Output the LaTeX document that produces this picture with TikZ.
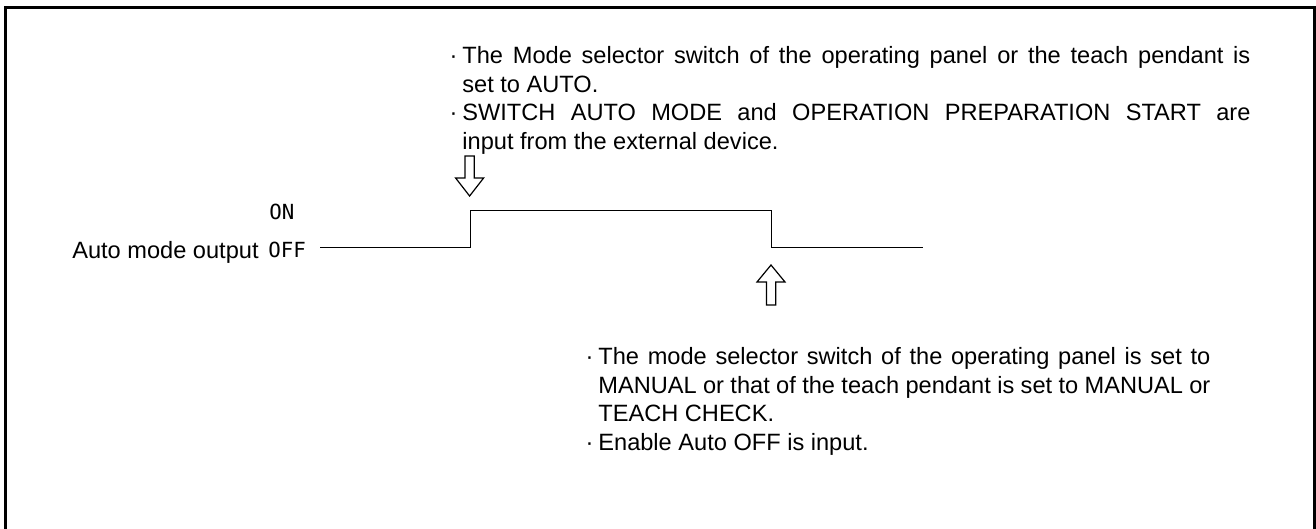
\documentclass[tikz,border=0pt]{standalone}
\usepackage{fontspec}
\setmainfont{Liberation Sans}
\newfontfamily\levelfont{DejaVu Sans Mono}
\usetikzlibrary{positioning}

\begin{document}
\begin{tikzpicture}[
    x=0.5pt, y=-0.5pt,
    note/.style={inner sep=0pt, anchor=north west, align=justify,
                 font=\fontsize{11.8}{14.25}\selectfont},
    sig/.style={inner sep=0pt, font=\fontsize{11.8}{14.25}\selectfont},
    lvl/.style={inner sep=0pt, font=\levelfont\fontsize{10.4}{12}\selectfont},
    wave/.style={line width=0.75pt},
    hollow/.style={line width=0.6pt, line join=miter},
  ]
    \useasboundingbox (0,0) rectangle (1316,529);
    \draw[line width=1.6pt] (5.7,529) -- (5.7,7.3) -- (1314.2,7.3) -- (1314.2,529);

    % signal name and levels
    \node[sig, anchor=base east] (signame) at (259,258) {Auto mode output};
    \node[lvl, anchor=base west] (offlbl) at (268,257) {OFF};
    \node[lvl, anchor=base west] (onlbl) at (269,220) {ON};

    % waveform
    \coordinate (w0) at (320,247.5);
    \coordinate (w1) at (470.5,247.5);
    \coordinate (w2) at (470.5,210.5);
    \coordinate (w3) at (771.5,210.5);
    \coordinate (w4) at (771.5,247.5);
    \coordinate (w5) at (922.5,247.5);
    \draw[wave] (w0) -- (w1) -- (w2) -- (w3) -- (w4) -- (w5);

    % hollow arrows
    \coordinate (ontip) at (469.6,196);
    \coordinate (offtip) at (771,265);
    \draw[hollow] (ontip) -- ++(-14,-18) -- ++(9.4,0) -- ++(0,-22) -- ++(9.2,0)
      -- ++(0,22) -- ++(9.4,0) -- cycle;
    \draw[hollow] (offtip) -- ++(-14,17) -- ++(9.5,0) -- ++(0,23) -- ++(9.3,0)
      -- ++(0,-23) -- ++(9.2,0) -- cycle;

    % conditions
    \node[note, text width=394pt] (onnote) at (462,46.3) {%
      \noindent\llap{·\hspace{2.5pt}}The Mode selector switch of the operating panel or the teach pendant is\linebreak
      set to AUTO.\par
      \noindent\llap{·\hspace{2.5pt}}SWITCH AUTO MODE and OPERATION PREPARATION START are\linebreak
      input from the external device.};
    \node[note, text width=306pt] (offnote) at (598,347.3) {%
      \noindent\llap{·\hspace{2.5pt}}The mode selector switch of the operating panel is set to\linebreak
      MANUAL or that of the teach pendant is set to MANUAL or\linebreak
      TEACH CHECK.\par
      \noindent\llap{·\hspace{2.5pt}}Enable Auto OFF is input.};
\end{tikzpicture}
\end{document}
